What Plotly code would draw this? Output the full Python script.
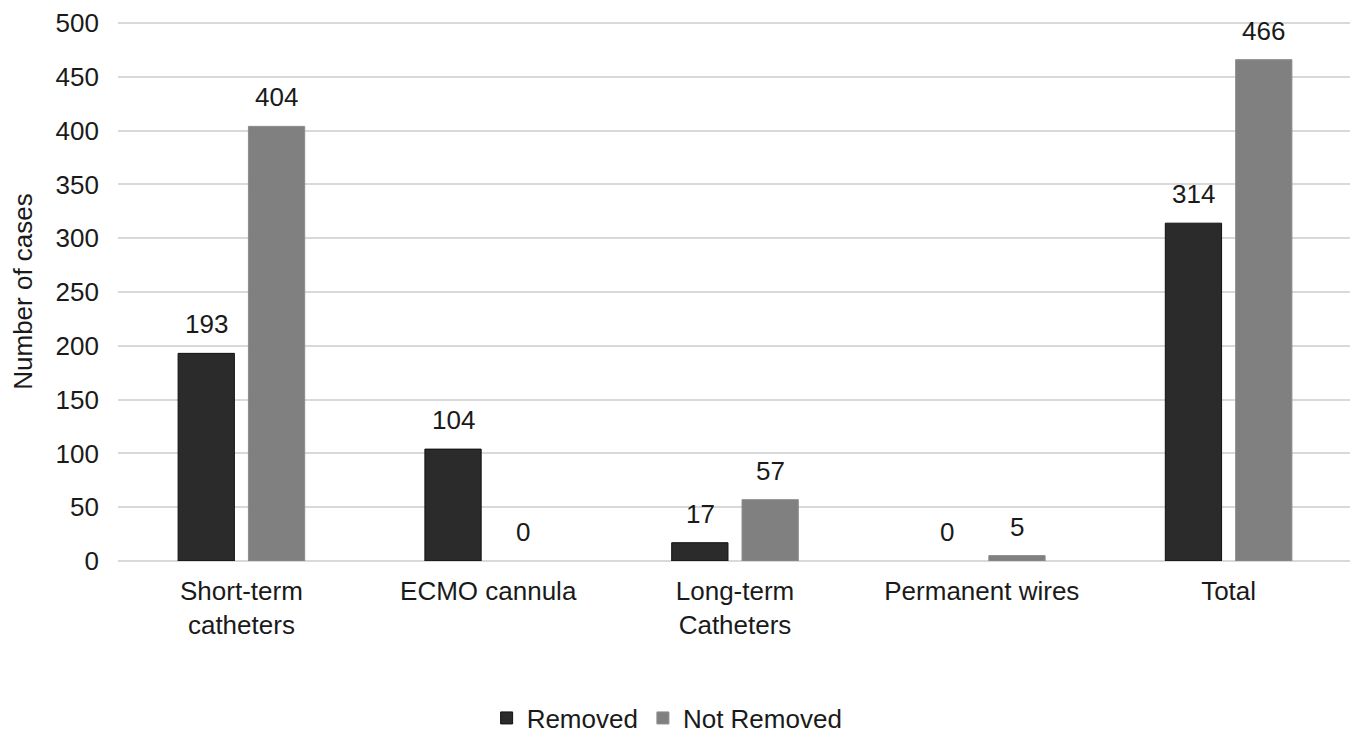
import plotly.graph_objects as go

categories = ["Short-term<br>catheters", "ECMO cannula", "Long-term<br>Catheters", "Permanent wires", "Total"]
removed = [193, 104, 17, 0, 314]
not_removed = [404, 0, 57, 5, 466]
y_ticks = [0, 50, 100, 150, 200, 250, 300, 350, 400, 450, 500]

font_family = "Liberation Sans, Arial, sans-serif"
FS = 26

fig = go.Figure()
fig.add_trace(go.Bar(
    x=categories, y=removed, name="Removed",
    marker=dict(color="#2b2b2b",
                line=dict(color="#111111", width=[1 if v > 0 else 0 for v in removed])),
))
fig.add_trace(go.Bar(
    x=categories, y=not_removed, name="Not Removed",
    marker=dict(color="#808080",
                line=dict(color="#8c8c8c", width=[1 if v > 0 else 0 for v in not_removed])),
))

# data labels placed above each bar (offset to the bar's slot in the group)
annotations = []
for series, shift in ((removed, -35), (not_removed, 35)):
    for cat, val in zip(categories, series):
        annotations.append(dict(
            x=cat, y=val, xref="x", yref="y", text=str(val), showarrow=False,
            xshift=shift, yshift=12, yanchor="bottom", xanchor="center",
            font=dict(size=FS, color="#1a1a1a", family=font_family),
        ))

fig.update_layout(
    width=1350, height=726,
    margin=dict(l=110, r=6, t=14, b=173, autoexpand=False),
    paper_bgcolor="white", plot_bgcolor="white",
    font=dict(family=font_family, size=FS, color="#1a1a1a"),
    barmode="group", bargap=0.43, bargroupgap=0.2,
    showlegend=True,
    legend=dict(orientation="h", x=0.445, xanchor="center",
                yref="container", y=0.022, yanchor="middle",
                font=dict(size=FS), itemwidth=30, tracegroupgap=0),
    annotations=annotations,
)
fig.update_xaxes(showgrid=False, showline=False, ticks="", tickfont=dict(size=FS),
                 automargin=False, ticklabelstandoff=12)
fig.update_yaxes(
    range=[0, 501], tickvals=y_ticks, showgrid=True, gridcolor="#d9d9d9", gridwidth=2,
    zeroline=True, zerolinecolor="#d9d9d9", zerolinewidth=2,
    showline=False, ticks="", tickfont=dict(size=FS), ticklabelstandoff=18,
    ticklabeloverflow="allow",
    title=dict(text="Number of cases", font=dict(size=FS), standoff=18),
    automargin=False,
)

fig.write_html("out.html")
